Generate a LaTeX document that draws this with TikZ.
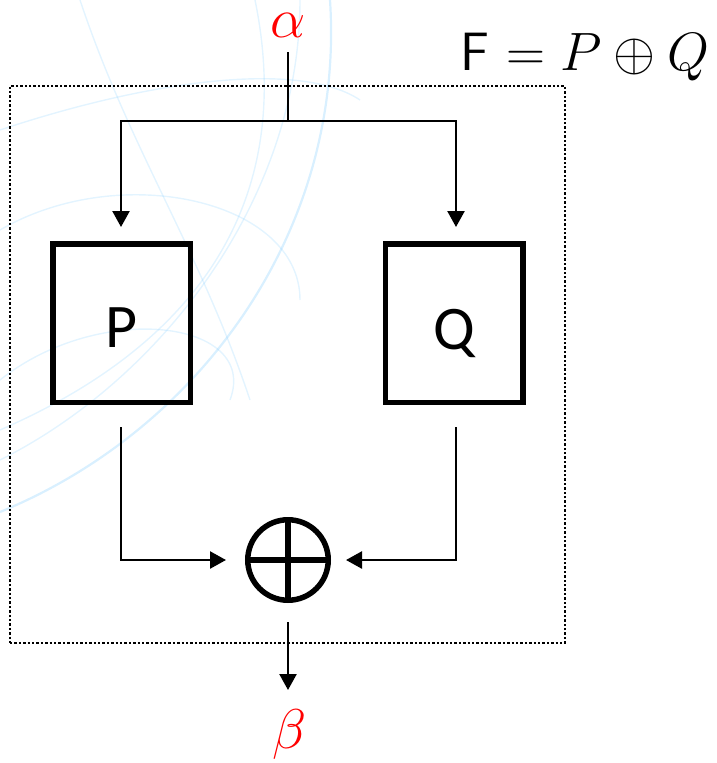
\RequirePackage{fix-cm}
\documentclass[tikz,border=0pt]{standalone}
\usepackage{fontspec}
\newfontfamily\boxfont{Carlito}
\usetikzlibrary{arrows.meta}
\begin{document}
\begin{tikzpicture}[x=1pt,y=-1pt,
  wire/.style={line width=2.4pt},
  arr/.style={wire,-{Triangle[length=16pt,width=17pt]}},
  blockbox/.style={draw,line width=5.5pt,minimum width=137.5pt,minimum height=158.5pt,outer sep=0pt},
  boxlbl/.style={font=\boxfont\fontsize{62}{66}\selectfont},
  xorc/.style={draw,circle,line width=5.5pt,minimum size=80.5pt,inner sep=0pt,outer sep=0pt},
  lbl/.style={text=red,inner sep=0pt,font=\fontsize{56}{60}\selectfont},
  wm/.style={draw=blue!40!cyan!50!white,opacity=0.22,line width=1.4pt}]
\useasboundingbox (0,0) rectangle (716,763);
% faint watermark arcs
\draw[wm,line width=2.2pt,opacity=0.3] (330,0) .. controls (345,230) and (200,430) .. (0,512);
\draw[wm] (300,0) .. controls (300,200) and (160,380) .. (0,460);
\draw[wm] (255,0) .. controls (290,170) and (230,330) .. (0,430);
\draw[wm] (0,230) .. controls (120,160) and (300,200) .. (300,300);
\draw[wm] (0,380) .. controls (100,300) and (260,320) .. (230,400);
\draw[wm] (0,130) .. controls (150,80) and (300,60) .. (360,100);
\draw[wm] (80,0) .. controls (130,150) and (200,250) .. (250,400);
% dotted frame
\node[draw,dotted,line width=2.4pt,minimum width=555pt,minimum height=557pt,outer sep=0pt] (frame) at (287.5,364.5) {};
\node[anchor=base,inner sep=0pt] (F) at (585,70) {\fontsize{54}{60}\selectfont\sffamily F $=P\oplus Q$};
% labels
\node[lbl,anchor=base] (alpha) at (288,37) {$\alpha$};
\node[lbl,anchor=base] (beta) at (290,748) {$\beta$};
% blocks
\node[blockbox] (P) at (121.5,323) {};
\node[blockbox] (Q) at (454,323) {};
\node[boxlbl,anchor=base] (Ptxt) at (P.center) [yshift=-24pt] {P};
\node[boxlbl,anchor=base] (Qtxt) at (Q.center) [yshift=-26pt] {Q};
\node[xorc] (X) at (288,560) {};
\draw[line width=5.5pt] (X.north) -- (X.south) (X.west) -- (X.east);
% connectors
\coordinate (a0) at (288,52);
\coordinate (sp) at (288,121);
\coordinate (pin) at (121,227);
\coordinate (qin) at (456,227);
\coordinate (pout) at (121,427);
\coordinate (qout) at (456,427);
\coordinate (xl) at (226,560);
\coordinate (xr) at (346,560);
\coordinate (xout) at (288,622);
\coordinate (bin) at (288,690);
\draw[wire] (a0) -- (sp);
\draw[arr] (sp) -| (pin);
\draw[arr] (sp) -| (qin);
\draw[arr] (pout) |- (xl);
\draw[arr] (qout) |- (xr);
\draw[arr] (xout) -- (bin);
\end{tikzpicture}
\end{document}
